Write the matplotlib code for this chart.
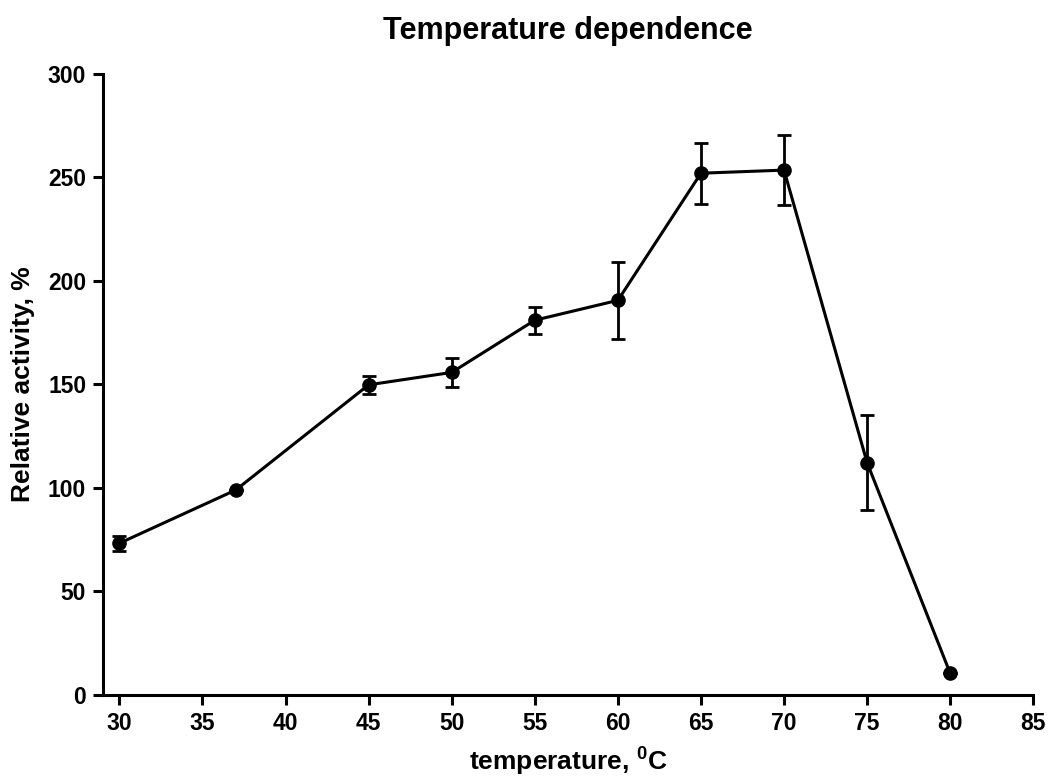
import matplotlib
matplotlib.use("Agg")
import matplotlib.pyplot as plt

# temperature dependence data
temps = [30, 37, 45, 50, 55, 60, 65, 70, 75, 80]
activity = [73.3, 99.0, 149.8, 155.8, 181.0, 190.6, 252.0, 253.5, 112.2, 10.5]
err = [3.6, 0.0, 4.4, 6.9, 6.5, 18.7, 14.8, 17.0, 23.0, 0.0]

xticks = [30, 35, 40, 45, 50, 55, 60, 65, 70, 75, 80, 85]
yticks = [0, 50, 100, 150, 200, 250, 300]

plt.rcParams['font.family'] = ['Liberation Sans', 'DejaVu Sans']
plt.rcParams['font.weight'] = 'bold'
plt.rcParams['mathtext.fontset'] = 'custom'
plt.rcParams['mathtext.rm'] = 'Liberation Sans:bold'
plt.rcParams['mathtext.bf'] = 'Liberation Sans:bold'

fig = plt.figure(figsize=(10.49, 7.77), dpi=100)
ax = fig.add_axes([0.098, 0.1055, 0.887, 0.7995])

ax.errorbar(temps, activity, yerr=err, color='black', linewidth=2.2,
            marker='o', markersize=9.5, elinewidth=2.0, capsize=5, capthick=2.0)

ax.set_xlim(29.0, 85)
ax.set_ylim(0, 300)
ax.set_xticks(xticks)
ax.set_yticks(yticks)

for s in ['top', 'right']:
    ax.spines[s].set_visible(False)
for s in ['left', 'bottom']:
    ax.spines[s].set_linewidth(2.2)

ax.tick_params(direction='out', length=7, width=2.2, labelsize=16.5, pad=5)
for lab in ax.get_xticklabels() + ax.get_yticklabels():
    lab.set_fontweight('bold')

ax.set_xlabel('temperature, $^{0}$C', fontsize=19, fontweight='bold', labelpad=7)
ax.set_ylabel('Relative activity, %', fontsize=19, fontweight='bold', labelpad=9)
ax.set_title('Temperature dependence', fontsize=22, fontweight='bold', pad=25)

fig.savefig('out.png', dpi=100)
